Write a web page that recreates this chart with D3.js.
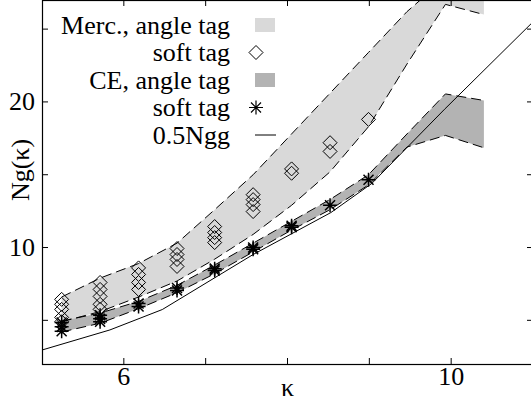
<!DOCTYPE html>
<html>
<head>
<meta charset="utf-8">
<script src="https://cdn.jsdelivr.net/npm/d3@7"></script>
<style>
  body { margin: 0; background: #fff; }
  svg { display: block; font-family: "Liberation Serif", "Times New Roman", serif; }
</style>
</head>
<body>
<div id="chart"></div>
<script>
// kappa grid of the simulations
const kappa = [5.24, 5.71, 6.18, 6.65, 7.11, 7.58, 8.05, 8.52, 8.99, 9.46, 9.93, 10.40];

// Merc., angle tag band (upper / lower edge)
const mercAngleHigh = [6.6, 7.9, 8.9, 10.3, 12.6, 15.0, 17.8, 20.6, 23.4, 26.2, 28.5, 28.5];
const mercAngleLow = [4.9, 5.6, 6.6, 7.7, 9.2, 10.9, 12.9, 15.2, 18.3, 22.6, 26.7, 26.0];

// CE, angle tag band (upper / lower edge)
const ceAngleHigh = [4.95, 5.5, 6.3, 7.4, 8.8, 10.3, 11.8, 13.3, 15.0, 17.8, 20.55, 20.1];
const ceAngleLow = [4.2, 4.8, 5.8, 6.9, 8.2, 9.7, 11.2, 12.6, 14.3, 16.9, 17.7, 16.85];

// Merc., soft tag (several runs per kappa)
const mercSoft = [
  [6.44, 7.6, 8.6, 9.93, 11.44, 13.63, 15.4, 17.2, 18.8],
  [6.1, 7.12, 8.15, 9.52, 11.03, 13.29, 15.1, 16.6, null],
  [5.75, 6.64, 7.6, 9.18, 10.68, 12.95, null, null, null],
  [5.2, 6.1, 7.12, 8.7, 10.34, 12.47, null, null, null],
  [4.9, 5.75, null, null, null, null, null, null, null]
];

// CE, soft tag
const ceSoft = [
  [4.85, 5.35, 6.15, 7.22, 8.55, 10.0, 11.5, 12.9, 14.66],
  [4.55, 5.1, 5.95, 7.05, 8.42, 9.88, 11.4, null, null],
  [4.25, 4.9, null, null, null, null, null, null, null]
];

// 0.5Ngg reference curve
const nggKappa = [5.0, 5.83, 6.47, 7.58, 8.53, 9.03, 9.92, 11.0];
const nggValue = [2.96, 4.34, 5.74, 9.52, 12.4, 14.4, 19.5, 25.5];

const xTicks = [6, 7, 8, 9, 10];
const xTickLabels = ['6', '', '', '', '10'];
const yTicks = [5, 10, 15, 20, 25];
const yTickLabels = ['', '10', '', '20', ''];

const legendLabels = ['Merc., angle tag', 'soft tag', 'CE, angle tag', 'soft tag', '0.5Ngg'];

const width = 531, height = 402;
const mLeft = 42, mRight = 533, mTop = 0, mBottom = 364;

const x = d3.scaleLinear().domain([5, 11]).range([mLeft, mRight]);
const y = d3.scaleLinear().domain([2, 27]).range([mBottom, mTop]);

const svg = d3.select('#chart').append('svg')
  .attr('width', width)
  .attr('height', height);

svg.append('clipPath').attr('id', 'plot')
  .append('rect')
  .attr('x', mLeft).attr('y', mTop)
  .attr('width', mRight - mLeft).attr('height', mBottom - mTop);

const plot = svg.append('g').attr('clip-path', 'url(#plot)');

const band = (hi, lo) => d3.area()
  .x((d, i) => x(kappa[i]))
  .y0((d, i) => y(lo[i]))
  .y1((d, i) => y(hi[i]));

const edge = d3.line()
  .x((d, i) => x(kappa[i]))
  .y(d => y(d));

// bands
plot.append('path')
  .attr('d', band(mercAngleHigh, mercAngleLow)(kappa))
  .attr('fill', '#d9d9d9');

plot.append('path')
  .attr('d', band(ceAngleHigh, ceAngleLow)(kappa))
  .attr('fill', '#b3b3b3');

[mercAngleHigh, mercAngleLow, ceAngleHigh, ceAngleLow].forEach(arr => {
  plot.append('path')
    .attr('d', edge(arr))
    .attr('fill', 'none')
    .attr('stroke', '#000')
    .attr('stroke-width', 1)
    .attr('stroke-dasharray', '10,5');
});

// 0.5Ngg
plot.append('path')
  .attr('d', d3.line().x((d, i) => x(nggKappa[i])).y(d => y(d))(nggValue))
  .attr('fill', 'none')
  .attr('stroke', '#000')
  .attr('stroke-width', 1);

// markers
const diamond = 'M0,-7L7,0L0,7L-7,0Z';
const star = 'M0,-7V7M-7,0H7M-5,-5L5,5M-5,5L5,-5';

const diamondPts = [];
mercSoft.forEach(run => run.forEach((v, i) => { if (v != null) diamondPts.push([kappa[i], v]); }));
const starPts = [];
ceSoft.forEach(run => run.forEach((v, i) => { if (v != null) starPts.push([kappa[i], v]); }));

plot.selectAll('path.diamond')
  .data(diamondPts)
  .enter()
  .append('path')
  .attr('class', 'diamond')
  .attr('transform', d => `translate(${x(d[0])},${y(d[1])})`)
  .attr('d', diamond)
  .attr('fill', 'none')
  .attr('stroke', '#000')
  .attr('stroke-width', 1);

plot.selectAll('path.star')
  .data(starPts)
  .enter()
  .append('path')
  .attr('class', 'star')
  .attr('transform', d => `translate(${x(d[0])},${y(d[1])})`)
  .attr('d', star)
  .attr('fill', 'none')
  .attr('stroke', '#000')
  .attr('stroke-width', 1.5);

// frame and ticks
svg.append('rect')
  .attr('x', mLeft + 0.5).attr('y', mTop + 0.5)
  .attr('width', mRight - mLeft).attr('height', mBottom - mTop)
  .attr('fill', 'none')
  .attr('stroke', '#000')
  .attr('stroke-width', 1.2);

const ticks = svg.append('g').attr('stroke', '#000').attr('stroke-width', 1);
xTicks.forEach(t => {
  ticks.append('line').attr('x1', x(t)).attr('x2', x(t)).attr('y1', mBottom).attr('y2', mBottom - 6);
  ticks.append('line').attr('x1', x(t)).attr('x2', x(t)).attr('y1', mTop).attr('y2', mTop + 6);
});
yTicks.forEach(t => {
  ticks.append('line').attr('x1', mLeft).attr('x2', mLeft + 6).attr('y1', y(t)).attr('y2', y(t));
  ticks.append('line').attr('x1', mRight).attr('x2', mRight - 6).attr('y1', y(t)).attr('y2', y(t));
});

svg.selectAll('text.xtick')
  .data(xTicks)
  .enter()
  .append('text')
  .attr('class', 'xtick')
  .attr('x', d => x(d))
  .attr('y', mBottom + 21)
  .attr('text-anchor', 'middle')
  .style('font-size', '26px')
  .text((d, i) => xTickLabels[i]);

svg.selectAll('text.ytick')
  .data(yTicks)
  .enter()
  .append('text')
  .attr('class', 'ytick')
  .attr('x', mLeft - 7)
  .attr('y', d => y(d) + 8.5)
  .attr('text-anchor', 'end')
  .style('font-size', '26px')
  .text((d, i) => yTickLabels[i]);

svg.append('text')
  .attr('x', x(8))
  .attr('y', 396)
  .attr('text-anchor', 'middle')
  .style('font-size', '26px')
  .text('κ');

svg.append('text')
  .attr('transform', 'translate(29,170) rotate(-90)')
  .attr('text-anchor', 'middle')
  .style('font-size', '26px')
  .text('Ng(κ)');

// legend
const legend = svg.append('g');
const rowY = i => 25 + i * 27.5;
legend.selectAll('text')
  .data(legendLabels)
  .enter()
  .append('text')
  .attr('x', 230)
  .attr('y', (d, i) => rowY(i) + 8.5)
  .attr('text-anchor', 'end')
  .style('font-size', '26px')
  .text(d => d);

legend.append('rect').attr('x', 255).attr('y', rowY(0) - 7).attr('width', 20).attr('height', 14).attr('fill', '#d9d9d9');
legend.append('path').attr('d', diamond).attr('transform', `translate(256,${rowY(1)})`)
  .attr('fill', 'none').attr('stroke', '#000');
legend.append('rect').attr('x', 255).attr('y', rowY(2) - 7).attr('width', 20).attr('height', 14).attr('fill', '#b3b3b3');
legend.append('path').attr('d', star).attr('transform', `translate(256,${rowY(3)})`)
  .attr('fill', 'none').attr('stroke', '#000').attr('stroke-width', 1.2);
legend.append('line').attr('x1', 255).attr('x2', 276).attr('y1', rowY(4)).attr('y2', rowY(4))
  .attr('stroke', '#000');
</script>
</body>
</html>
